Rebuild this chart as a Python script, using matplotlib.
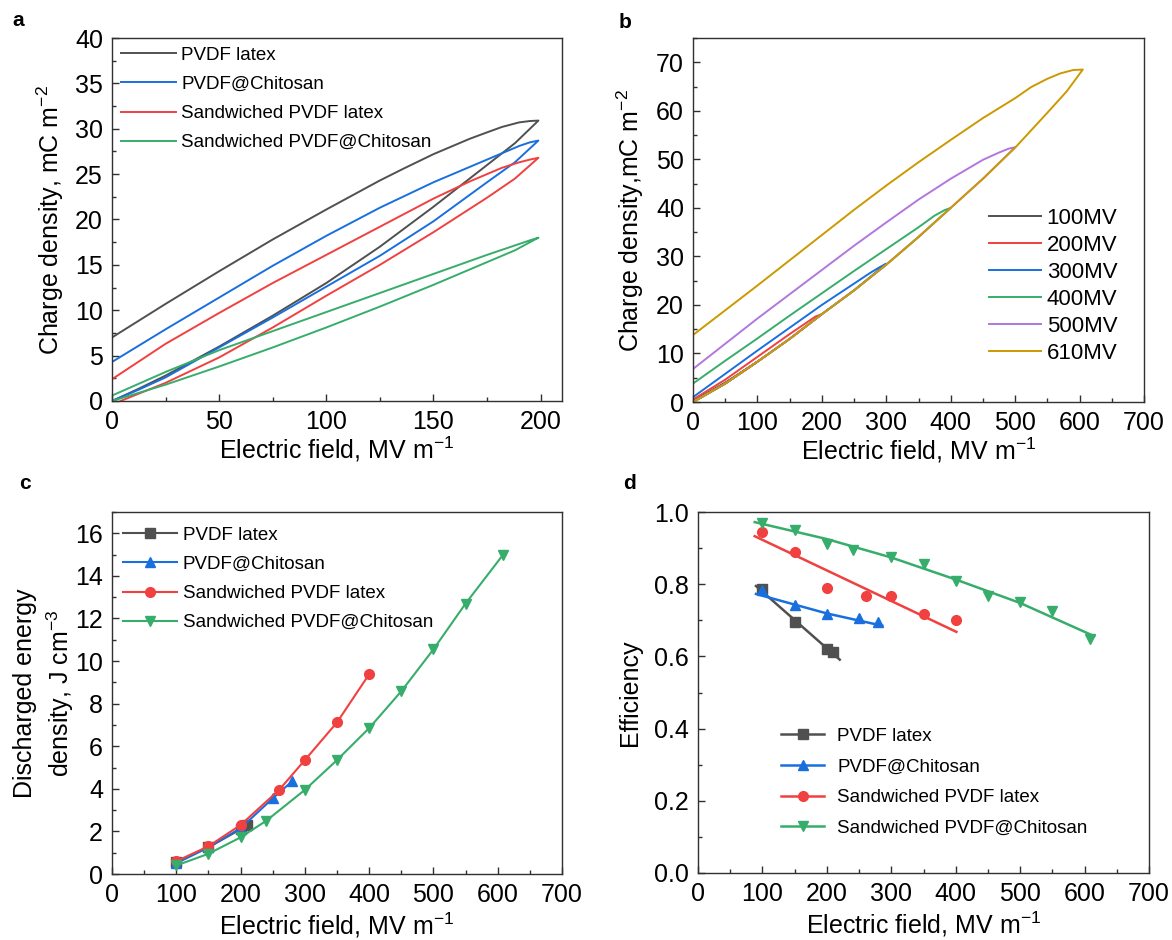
import numpy as np
import matplotlib
matplotlib.use("Agg")
import matplotlib.pyplot as plt
from matplotlib.lines import Line2D
from matplotlib.ticker import MultipleLocator, FormatStrFormatter

plt.rcParams['font.family'] = ['Liberation Sans', 'DejaVu Sans']
plt.rcParams['mathtext.fontset'] = 'custom'
plt.rcParams['mathtext.rm'] = 'Liberation Sans'
plt.rcParams['mathtext.default'] = 'regular'

# --- couleurs (palette type Origin) ---
C_BLK = '#505050'
C_RED = '#F14040'
C_BLU = '#1A6FDF'
C_GRN = '#37AD6B'
C_PUR = '#B177DE'
C_GLD = '#CC9900'

# === a : boucles P-E des quatre films (200 MV/m) ===
names = ['PVDF latex', 'PVDF@Chitosan', 'Sandwiched PVDF latex', 'Sandwiched PVDF@Chitosan']

latex_up_E = [0, 12, 25, 50, 75, 100, 125, 150, 175, 188, 199]
latex_up_P = [0, 1.3, 2.8, 6.0, 9.4, 13.0, 17.0, 21.4, 26.0, 28.4, 30.9]
latex_dn_E = [199, 195, 190, 182, 175, 167, 150, 136, 125, 100, 75, 50, 25, 0]
latex_dn_P = [30.9, 30.85, 30.7, 30.2, 29.6, 28.9, 27.2, 25.6, 24.3, 21.1, 17.8, 14.3, 10.7, 7.0]

chito_up_E = [0, 12, 25, 50, 75, 100, 125, 150, 175, 188, 199]
chito_up_P = [0, 1.2, 2.6, 5.9, 9.2, 12.6, 16.0, 19.8, 24.1, 26.3, 28.7]
chito_dn_E = [199, 195, 190, 185, 175, 167, 150, 125, 100, 75, 50, 25, 0]
chito_dn_P = [28.7, 28.5, 28.1, 27.6, 26.6, 25.8, 24.1, 21.3, 18.2, 14.9, 11.4, 7.9, 4.3]

sand_up_E = [4, 25, 50, 75, 100, 125, 150, 175, 188, 199]
sand_up_P = [0, 2.0, 4.8, 8.1, 11.6, 15.0, 18.6, 22.4, 24.5, 26.8]
sand_dn_E = [199, 195, 190, 182, 167, 150, 125, 100, 75, 50, 25, 0]
sand_dn_P = [26.8, 26.6, 26.3, 25.7, 24.2, 22.3, 19.2, 16.1, 13.0, 9.7, 6.3, 2.4]

sandch_up_E = [0, 25, 50, 75, 100, 125, 150, 175, 188, 199]
sandch_up_P = [0, 1.8, 3.8, 5.9, 8.1, 10.4, 12.8, 15.3, 16.6, 18.0]
sandch_dn_E = [199, 195, 190, 175, 150, 125, 100, 75, 50, 25, 0]
sandch_dn_P = [18.0, 17.7, 17.3, 16.1, 14.0, 11.9, 9.8, 7.7, 5.6, 3.2, 0.6]

# === b : boucles P-E a differents champs ===
charge_E = [0, 50, 100, 150, 200, 250, 300, 350, 400, 450, 500, 550, 580, 605]
charge_P = [0, 3.8, 8.3, 13.0, 18.1, 23.0, 28.3, 34.0, 40.0, 46.0, 52.4, 59.6, 64.0, 68.5]

loop_labels = ['100MV', '200MV', '300MV', '400MV', '500MV', '610MV']
dis_E_100 = [100, 50, 0]
dis_P_100 = [8.3, 4.0, 0.2]
dis_E_200 = [200, 190, 150, 100, 50, 0]
dis_P_200 = [18.1, 17.6, 14.0, 9.3, 4.6, 0.5]
dis_E_300 = [300, 290, 275, 250, 200, 150, 100, 50, 0]
dis_P_300 = [28.5, 27.8, 26.6, 24.4, 20.0, 15.3, 10.6, 5.8, 1.0]
dis_E_400 = [400, 390, 375, 350, 300, 250, 200, 150, 100, 50, 0]
dis_P_400 = [40.0, 39.5, 38.4, 36.0, 31.5, 27.0, 22.4, 17.8, 13.1, 8.5, 3.8]
dis_E_500 = [500, 490, 475, 450, 400, 350, 300, 250, 200, 150, 100, 50, 0]
dis_P_500 = [52.5, 52.2, 51.4, 49.9, 46.0, 41.7, 37.0, 32.2, 27.2, 22.2, 17.2, 12.0, 6.8]
dis_E_610 = [605, 590, 570, 550, 525, 500, 450, 400, 350, 300, 250, 200, 150, 100, 50, 0]
dis_P_610 = [68.5, 68.4, 67.7, 66.6, 64.9, 62.6, 58.5, 54.0, 49.4, 44.6, 39.6, 34.4, 29.2, 24.0, 18.9, 13.8]

# === c : densite d'energie dechargee ===
c_latex_E = [100, 150, 200, 210]
c_latex_W = [0.55, 1.25, 2.1, 2.3]
c_chito_E = [100, 150, 200, 250, 280]
c_chito_W = [0.5, 1.25, 2.15, 3.55, 4.35]
c_sand_E = [100, 150, 200, 260, 300, 350, 400]
c_sand_W = [0.6, 1.3, 2.3, 3.95, 5.35, 7.12, 9.38]
c_sandch_E = [100, 150, 200, 240, 300, 350, 400, 450, 500, 550, 608]
c_sandch_W = [0.4, 0.95, 1.72, 2.5, 3.95, 5.35, 6.85, 8.58, 10.55, 12.7, 14.98]

# === d : rendement ===
d_latex_E = [100, 150, 200, 210]
d_latex_eta = [0.788, 0.695, 0.620, 0.613]
d_chito_E = [100, 150, 200, 250, 280]
d_chito_eta = [0.783, 0.741, 0.718, 0.705, 0.695]
d_sand_E = [100, 150, 200, 260, 300, 350, 400]
d_sand_eta = [0.945, 0.888, 0.790, 0.767, 0.767, 0.718, 0.700]
d_sandch_E = [100, 150, 200, 240, 300, 350, 400, 450, 500, 550, 608]
d_sandch_eta = [0.970, 0.950, 0.912, 0.896, 0.874, 0.857, 0.808, 0.767, 0.750, 0.725, 0.648]

# courbes d'ajustement
fit_latex_E = [90, 220]
fit_latex_eta = [0.795, 0.591]
fit_chito_E = [90, 200, 286]
fit_chito_eta = [0.773, 0.719, 0.685]
fit_sand_E = [88, 401]
fit_sand_eta = [0.933, 0.668]
fit_sandch_E = [88, 200, 300, 400, 500, 615]
fit_sandch_eta = [0.972, 0.925, 0.874, 0.813, 0.748, 0.656]

W, H = 1172, 940
fig = plt.figure(figsize=(W / 100, H / 100), dpi=100)


def rect(l, r, t, b):
    return [l / W, 1 - b / H, (r - l) / W, (b - t) / H]


TICK_FS = 18
LAB_FS = 18


def style(ax):
    for s in ax.spines.values():
        s.set_linewidth(1.0)
        s.set_color('#303030')
    ax.tick_params(which='both', direction='in', top=False, right=False,
                   labelsize=TICK_FS, width=1.0, color='#303030')
    ax.tick_params(which='major', length=5, pad=6.5)
    ax.tick_params(which='minor', length=3)


ax_a = fig.add_axes(rect(112, 562, 38, 401))
ax_b = fig.add_axes(rect(693, 1144, 38, 402))
ax_c = fig.add_axes(rect(112, 562, 512, 874))
ax_d = fig.add_axes(rect(698, 1149, 512, 873))

# --- a ---
cols4 = [C_BLK, C_BLU, C_RED, C_GRN]
loops_a = [
    (latex_up_E, latex_up_P, latex_dn_E, latex_dn_P),
    (chito_up_E, chito_up_P, chito_dn_E, chito_dn_P),
    (sand_up_E, sand_up_P, sand_dn_E, sand_dn_P),
    (sandch_up_E, sandch_up_P, sandch_dn_E, sandch_dn_P),
]
for (ue, up, de, dp), col, nm in zip(loops_a, cols4, names):
    ax_a.plot(ue + de, up + dp, color=col, lw=1.4, label=nm)
ax_a.set_xlim(0, 210)
ax_a.set_ylim(0, 40)
ax_a.xaxis.set_major_locator(MultipleLocator(50))
ax_a.xaxis.set_minor_locator(MultipleLocator(25))
ax_a.yaxis.set_major_locator(MultipleLocator(5))
ax_a.yaxis.set_minor_locator(MultipleLocator(2.5))
style(ax_a)
ax_a.set_xlabel('Electric field, MV m$^{-1}$', fontsize=LAB_FS, labelpad=0.5)
ax_a.set_ylabel('Charge density, mC m$^{-2}$', fontsize=LAB_FS, labelpad=6.5)
ax_a.legend(loc='center left', bbox_to_anchor=(0.021, 0.832), frameon=False,
            fontsize=13.5, handlelength=2.9, handletextpad=0.3,
            labelspacing=0.64, borderpad=0, borderaxespad=0)

# --- b ---
cols6 = [C_BLK, C_RED, C_BLU, C_GRN, C_PUR, C_GLD]
dis_b = [(dis_E_100, dis_P_100), (dis_E_200, dis_P_200), (dis_E_300, dis_P_300),
         (dis_E_400, dis_P_400), (dis_E_500, dis_P_500), (dis_E_610, dis_P_610)]
for (de, dp), col, lab in zip(dis_b, cols6, loop_labels):
    emax = de[0]
    ce = [e for e in charge_E if e < emax]
    cp = [p for e, p in zip(charge_E, charge_P) if e < emax]
    ax_b.plot(ce + de, cp + dp, color=col, lw=1.4, label=lab)
ax_b.set_xlim(0, 700)
ax_b.set_ylim(0, 75)
ax_b.xaxis.set_major_locator(MultipleLocator(100))
ax_b.xaxis.set_minor_locator(MultipleLocator(50))
ax_b.yaxis.set_major_locator(MultipleLocator(10))
ax_b.yaxis.set_minor_locator(MultipleLocator(5))
style(ax_b)
ax_b.set_xlabel('Electric field, MV m$^{-1}$', fontsize=LAB_FS, labelpad=0.5)
ax_b.set_ylabel('Charge density,mC m$^{-2}$', fontsize=LAB_FS, labelpad=7)
ax_b.legend(loc='center left', bbox_to_anchor=(0.656, 0.318), frameon=False,
            fontsize=16, handlelength=2.35, handletextpad=0.25,
            labelspacing=0.27, borderpad=0, borderaxespad=0)

# --- c ---
mk = ['s', '^', 'o', 'v']
series_c = [(c_latex_E, c_latex_W), (c_chito_E, c_chito_W),
            (c_sand_E, c_sand_W), (c_sandch_E, c_sandch_W)]
for (x, y), col, m, nm in zip(series_c, cols4, mk, names):
    ax_c.plot(x, y, color=col, lw=1.5, marker=m, ms=7, label=nm)
ax_c.set_xlim(0, 700)
ax_c.set_ylim(0, 17)
ax_c.xaxis.set_major_locator(MultipleLocator(100))
ax_c.xaxis.set_minor_locator(MultipleLocator(50))
ax_c.yaxis.set_major_locator(MultipleLocator(2))
ax_c.yaxis.set_minor_locator(MultipleLocator(1))
style(ax_c)
ax_c.set_xlabel('Electric field, MV m$^{-1}$', fontsize=LAB_FS, labelpad=2.5)
ax_c.set_ylabel('Discharged energy\ndensity, J cm$^{-3}$', fontsize=LAB_FS,
                labelpad=-1, linespacing=1.35)
hc = [Line2D([], [], color=col, lw=1.5, marker=m, ms=7) for col, m in zip(cols4, mk)]
ax_c.legend(hc, names, loc='center left', bbox_to_anchor=(0.024, 0.815), frameon=False,
            fontsize=13.5, handlelength=2.9, handletextpad=0.3,
            labelspacing=0.64, borderpad=0, borderaxespad=0)

# --- d ---
series_d = [(d_latex_E, d_latex_eta), (d_chito_E, d_chito_eta),
            (d_sand_E, d_sand_eta), (d_sandch_E, d_sandch_eta)]
fits_d = [(fit_latex_E, fit_latex_eta), (fit_chito_E, fit_chito_eta),
          (fit_sand_E, fit_sand_eta), (fit_sandch_E, fit_sandch_eta)]
for (x, y), (fx, fy), col, m in zip(series_d, fits_d, cols4, mk):
    ax_d.plot(fx, fy, color=col, lw=1.8)
    ax_d.plot(x, y, ls='none', color=col, marker=m, ms=7)
ax_d.set_xlim(0, 700)
ax_d.set_ylim(0, 1.0)
ax_d.xaxis.set_major_locator(MultipleLocator(100))
ax_d.xaxis.set_minor_locator(MultipleLocator(50))
ax_d.yaxis.set_major_locator(MultipleLocator(0.2))
ax_d.yaxis.set_minor_locator(MultipleLocator(0.1))
ax_d.yaxis.set_major_formatter(FormatStrFormatter('%.1f'))
style(ax_d)
ax_d.set_xlabel('Electric field, MV m$^{-1}$', fontsize=LAB_FS, labelpad=2.5)
ax_d.set_ylabel('Efficiency', fontsize=LAB_FS, labelpad=8.5)
hd = [Line2D([], [], color=col, lw=1.8, marker=m, ms=7) for col, m in zip(cols4, mk)]
ax_d.legend(hd, names, loc='center left', bbox_to_anchor=(0.184, 0.251), frameon=False,
            fontsize=13.5, handlelength=2.3, handletextpad=0.7,
            labelspacing=0.72, borderpad=0, borderaxespad=0)

# lettres des panneaux
for txt, x, y in [('a', 18, 20), ('b', 625, 22), ('c', 25, 484), ('d', 630, 484)]:
    fig.text(x / W, 1 - y / H, txt, fontsize=15, fontweight='bold', ha='center', va='center')

fig.savefig('out.png', dpi=100)
